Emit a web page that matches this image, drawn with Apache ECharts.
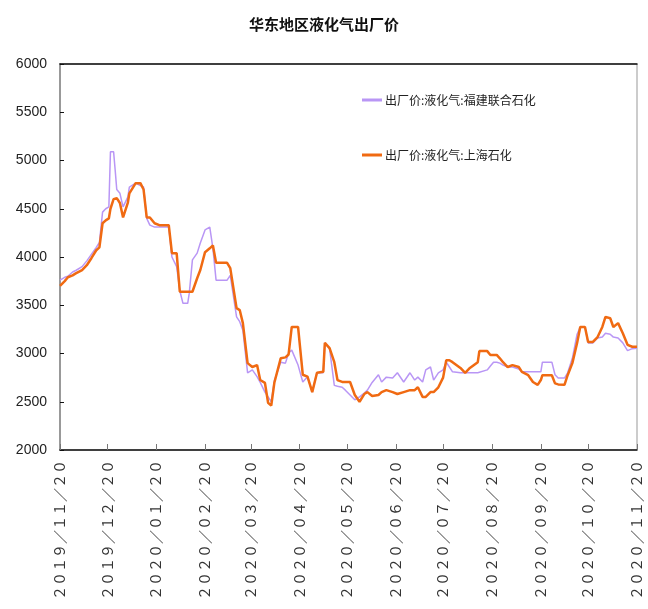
<!DOCTYPE html>
<html>
<head>
<meta charset="utf-8">
<script src="https://cdn.jsdelivr.net/npm/echarts@6/dist/echarts.min.js"></script>
<style>html,body{margin:0;padding:0;background:#fff;}#c{width:648px;height:609px;}</style>
</head>
<body>
<div id="c"></div>
<script>
var title = '华东地区液化气出厂价';
var seriesNames = ['出厂价:液化气:福建联合石化', '出厂价:液化气:上海石化'];
var tickDates = ['2019-11-20','2019-12-20','2020-01-20','2020-02-20','2020-03-20','2020-04-20','2020-05-20','2020-06-20','2020-07-20','2020-08-20','2020-09-20','2020-10-20','2020-11-20'];
var yTicks = [2000, 2500, 3000, 3500, 4000, 4500, 5000, 5500, 6000];

var dates = ['2019-11-20','2019-11-23','2019-11-25','2019-11-28','2019-11-30',
'2019-12-04','2019-12-07','2019-12-10','2019-12-13','2019-12-15','2019-12-17','2019-12-19','2019-12-21','2019-12-22','2019-12-24','2019-12-25','2019-12-26','2019-12-28','2019-12-30',
'2020-01-02','2020-01-03','2020-01-07','2020-01-10','2020-01-12','2020-01-14','2020-01-16','2020-01-19','2020-01-22','2020-01-26','2020-01-28','2020-01-30',
'2020-02-02','2020-02-04','2020-02-06','2020-02-09','2020-02-10','2020-02-12','2020-02-15','2020-02-17','2020-02-20','2020-02-23','2020-02-25','2020-02-27',
'2020-03-05','2020-03-07','2020-03-11','2020-03-13','2020-03-15','2020-03-18','2020-03-21','2020-03-24','2020-03-26','2020-03-29','2020-03-31',
'2020-04-02','2020-04-04','2020-04-08','2020-04-11','2020-04-13','2020-04-15','2020-04-19','2020-04-22','2020-04-25','2020-04-28',
'2020-05-01','2020-05-05','2020-05-06','2020-05-09','2020-05-12','2020-05-14','2020-05-17','2020-05-19','2020-05-22','2020-05-25','2020-05-28','2020-05-31',
'2020-06-02','2020-06-05','2020-06-09','2020-06-11','2020-06-14','2020-06-18','2020-06-21','2020-06-25','2020-06-29',
'2020-07-02','2020-07-04','2020-07-07','2020-07-09','2020-07-12','2020-07-14','2020-07-17','2020-07-20','2020-07-22','2020-07-24','2020-07-26','2020-07-31',
'2020-08-03','2020-08-06','2020-08-11','2020-08-12','2020-08-17','2020-08-19','2020-08-21','2020-08-23','2020-08-25','2020-08-27','2020-08-30',
'2020-09-02','2020-09-06','2020-09-08','2020-09-12','2020-09-15','2020-09-18','2020-09-20','2020-09-21','2020-09-27','2020-09-29',
'2020-10-01','2020-10-05','2020-10-07','2020-10-10','2020-10-13','2020-10-15','2020-10-18','2020-10-20','2020-10-23','2020-10-26','2020-10-29','2020-10-31',
'2020-11-03','2020-11-05','2020-11-08','2020-11-11','2020-11-14','2020-11-17','2020-11-20'];

var fujian = [3760,3790,3800,3845,3860,
3900,3960,4030,4100,4150,4465,4500,4520,5090,5090,4900,4700,4660,4520,
4620,4725,4765,4740,4725,4400,4330,4310,4310,4310,4310,4000,
3900,3650,3520,3520,3625,3970,4040,4145,4280,4310,4090,3760,
3760,3810,3380,3330,3240,2800,2830,2760,2700,2600,2550,
2500,2720,2910,2900,3005,3035,2880,2705,2760,2600,
2800,2800,3110,3050,2670,2660,2650,2620,2570,2520,2550,2590,
2620,2700,2780,2705,2755,2745,2800,2705,2800,
2725,2755,2705,2830,2860,2725,2800,2830,2910,2860,2810,2800,
2800,2800,2800,2800,2830,2870,2910,2910,2900,2880,2860,
2860,2840,2810,2810,2810,2810,2810,2910,2910,2780,
2745,2745,2800,2950,3200,3275,3275,3110,3110,3160,3170,3210,
3200,3170,3160,3110,3030,3050,3055];

var shanghai = [3700,3750,3790,3810,3830,
3865,3915,3990,4070,4100,4350,4380,4400,4500,4600,4620,4610,4560,4410,
4560,4660,4765,4765,4700,4410,4410,4350,4330,4330,4330,4040,
4040,3640,3640,3640,3640,3640,3780,3865,4050,4090,4120,3940,
3940,3885,3470,3450,3315,2900,2860,2880,2725,2695,2490,
2460,2700,2950,2960,2990,3275,3275,2780,2760,2600,
2800,2810,3110,3055,2910,2725,2705,2705,2705,2570,2500,2580,
2600,2560,2570,2600,2620,2600,2580,2600,2620,
2620,2650,2550,2550,2600,2600,2650,2750,2930,2930,2910,2850,
2800,2850,2910,3025,3025,2985,2985,2985,2950,2910,2860,
2880,2860,2810,2775,2705,2675,2725,2775,2775,2690,
2680,2675,2775,2900,3110,3275,3275,3120,3120,3170,3275,3380,
3365,3275,3315,3210,3090,3070,3070];

function ts(s) { var p = s.split('-'); return Date.UTC(+p[0], +p[1] - 1, +p[2]); }
var FW = '０１２３４５６７８９';
function fw(str) { return str.replace(/[0-9]/g, function (c) { return FW[+c]; }).replace(/\//g, '／'); }
function pad(n) { return (n < 10 ? '0' : '') + n; }

var chart = echarts.init(document.getElementById('c'), null, { renderer: 'canvas' });
var tickVals = tickDates.map(ts);
var cjk = "'Noto Sans CJK SC', 'Noto Sans', sans-serif";
var narrow = "'Liberation Sans Narrow', 'Liberation Sans', sans-serif";

chart.setOption({
  animation: false,
  backgroundColor: '#fff',
  title: {
    text: title, left: 'center', top: 12,
    textStyle: { fontFamily: cjk, fontSize: 15, fontWeight: 'bold', color: '#111' }
  },
  legend: {
    orient: 'vertical', left: 362, top: 94, itemGap: 43, padding: 0,
    itemWidth: 20, itemHeight: 3, icon: 'rect',
    textStyle: { fontFamily: cjk, fontSize: 12, color: '#222', padding: [0, 0, 0, -2] },
    data: seriesNames
  },
  grid: { left: 60, right: 11, top: 64, bottom: 159, show: true, borderColor: '#999', borderWidth: 1, containLabel: false },
  xAxis: [{
    type: 'value',
    min: tickVals[0], max: tickVals[tickVals.length - 1],
    axisLine: { show: true, lineStyle: { color: '#111', width: 1.5 } },
    axisTick: { show: true, inside: true, length: 6, customValues: tickVals, lineStyle: { color: '#777' } },
    axisLabel: {
      customValues: tickVals, rotate: 90, margin: 10,
      fontFamily: cjk, fontSize: 14, color: '#333',
      formatter: function (v) {
        var d = new Date(v);
        return fw(d.getUTCFullYear() + '/' + pad(d.getUTCMonth() + 1) + '/' + pad(d.getUTCDate()));
      }
    },
    splitLine: { show: false }
  }, {
    type: 'value', position: 'top',
    min: tickVals[0], max: tickVals[tickVals.length - 1],
    axisLine: { show: true, lineStyle: { color: '#111', width: 1.5 } },
    axisTick: { show: false }, axisLabel: { show: false }, splitLine: { show: false }
  }],
  yAxis: {
    type: 'value', min: yTicks[0], max: yTicks[yTicks.length - 1], interval: 500,
    axisLine: { show: true, lineStyle: { color: '#999', width: 2 } },
    axisTick: { show: true, inside: true, length: 4, lineStyle: { color: '#111' } },
    axisLabel: { fontFamily: narrow, fontSize: 14, color: '#222', margin: 13, formatter: function (v) { return String(v); } },
    splitLine: { show: false }
  },
  series: [{
    name: seriesNames[0], type: 'line', showSymbol: false, symbol: 'none',
    data: dates.map(function (d, i) { return [ts(d), fujian[i]]; }),
    lineStyle: { color: '#b996f5', width: 1.5 }, itemStyle: { color: '#b996f5' }
  }, {
    name: seriesNames[1], type: 'line', showSymbol: false, symbol: 'none',
    data: dates.map(function (d, i) { return [ts(d), shanghai[i]]; }),
    lineStyle: { color: '#f06a12', width: 2.5 }, itemStyle: { color: '#f06a12' }
  }]
});
</script>
</body>
</html>
